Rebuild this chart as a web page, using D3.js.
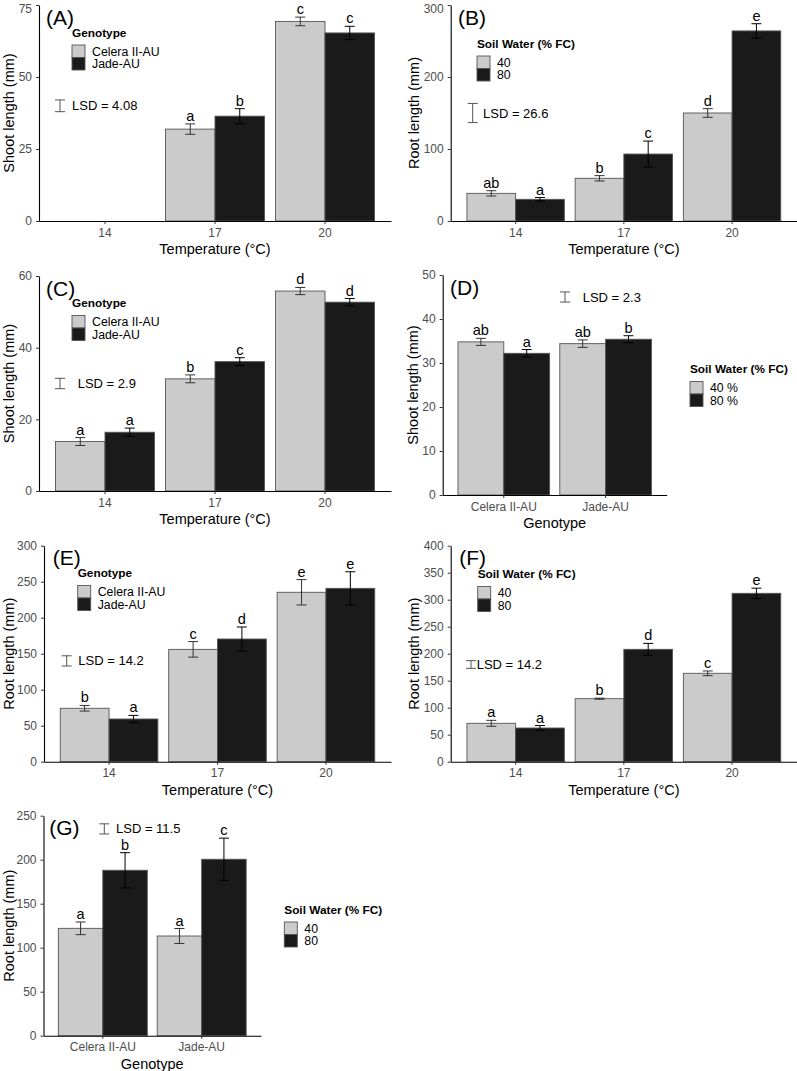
<!DOCTYPE html>
<html lang="en">
<head>
<meta charset="UTF-8">
<title>Shoot and root length</title>
<script src="https://d3js.org/d3.v7.min.js"></script>
<style>
  body { margin: 0; background: #fff; font-family: "Liberation Sans", Arial, Helvetica, sans-serif; }
  svg { font-family: "Liberation Sans", Arial, Helvetica, sans-serif; }
  .tick text { fill: #4d4d4d; font-size: 12px; }
  .tick line { stroke: #333; }
  .domain { stroke: #000; stroke-width: 1.1; }
  .ptitle { font-size: 21px; }
  .atitle { font-size: 14.5px; }
  .ltitle { font-size: 11.8px; font-weight: bold; }
  .llab { font-size: 12.3px; }
  .lsd { font-size: 13px; }
  .letter { font-size: 14.5px; }
</style>
</head>
<body>
<svg id="fig" width="797" height="1071"></svg>
<script>
// categories
var temps = ["14", "17", "20"];
var genotypes = ["Celera II-AU", "Jade-AU"];
var genoLegend = ["Celera II-AU", "Jade-AU"];
var waterLegend = ["40", "80"];
var waterLegendPct = ["40 %", "80 %"];

// (A) shoot length ~ temperature x genotype (no shoots at 14)
var aCelera = [null, 31.9, 69.3];
var aCeleraErr = [null, 1.8, 1.5];
var aCeleraLet = ["", "a", "c"];
var aJade = [null, 36.4, 65.3];
var aJadeErr = [null, 2.6, 2.3];
var aJadeLet = ["", "b", "c"];
var aTicks = [0, 25, 50, 75];

// (B) root length ~ temperature x soil water
var b40 = [38.4, 59.3, 150];
var b40Err = [3.7, 3.7, 6];
var b40Let = ["ab", "b", "d"];
var b80 = [30.1, 93, 264];
var b80Err = [2.5, 18, 10];
var b80Let = ["a", "c", "e"];
var bTicks = [0, 100, 200, 300];

// (C) shoot length ~ temperature x genotype
var cCelera = [13.8, 31.3, 55.8];
var cCeleraErr = [1.1, 1.1, 1.0];
var cCeleraLet = ["a", "b", "d"];
var cJade = [16.4, 36.1, 52.7];
var cJadeErr = [1.15, 1.1, 1.0];
var cJadeLet = ["a", "c", "d"];
var cTicks = [0, 20, 40, 60];

// (D) shoot length ~ genotype x soil water
var d40 = [34.8, 34.4];
var d40Err = [0.8, 0.85];
var d40Let = ["ab", "ab"];
var d80 = [32.2, 35.4];
var d80Err = [0.85, 0.8];
var d80Let = ["a", "b"];
var dTicks = [0, 10, 20, 30, 40, 50];

// (E) root length ~ temperature x genotype
var eCelera = [74.2, 156, 235.3];
var eCeleraErr = [3.9, 10.8, 17.6];
var eCeleraLet = ["b", "c", "e"];
var eJade = [59.3, 170.4, 240.8];
var eJadeErr = [5, 16.7, 23];
var eJadeLet = ["a", "d", "e"];
var eTicks = [0, 50, 100, 150, 200, 250, 300];

// (F) root length ~ temperature x soil water
var f40 = [71.1, 116.7, 163.7];
var f40Err = [5.5, 1, 4.3];
var f40Let = ["a", "b", "c"];
var f80 = [62.4, 208.1, 311.8];
var f80Err = [4.6, 11, 9.5];
var f80Let = ["a", "d", "e"];
var fTicks = [0, 50, 100, 150, 200, 250, 300, 350, 400];

// (G) root length ~ genotype x soil water
var g40 = [122, 113.3];
var g40Err = [7.2, 8.5];
var g40Let = ["a", "a"];
var g80 = [188, 200.5];
var g80Err = [20, 24];
var g80Let = ["b", "c"];
var gTicks = [0, 50, 100, 150, 200, 250];

// LSD values and where the LSD bar sits (data units)
var lsdVals = [4.08, 26.6, 2.9, 2.3, 14.2, 14.2, 11.5];
var lsdCenters = [40, 150, 30, 45, 140, 180, 235];

var light = "#cbcbcb", dark = "#1a1a1a";
var svg = d3.select("#fig");

function panel(o) {
  var g = svg.append("g");
  var x = d3.scaleBand().domain(o.cats).range([o.x0, o.x1])
    .paddingInner(0.1).paddingOuter(0.15);
  var sub = d3.scaleBand().domain([0, 1]).range([0, x.bandwidth()]);
  var y = d3.scaleLinear().domain([0, o.yMax]).range([o.yBase, o.yTop]);

  var series = [
    { v: o.s1, e: o.e1, l: o.l1, fill: light, ec: "#333" },
    { v: o.s2, e: o.e2, l: o.l2, fill: dark, ec: "#000" }
  ];
  var rows = [];
  series.forEach(function(s, si) {
    o.cats.forEach(function(c, i) {
      if (s.v[i] == null) return;
      rows.push({ c: c, si: si, v: s.v[i], e: s.e[i], l: s.l[i], fill: s.fill, ec: s.ec });
    });
  });
  var cx = function(d) { return x(d.c) + sub(d.si) + sub.bandwidth() / 2; };

  g.selectAll("rect.bar").data(rows).enter().append("rect")
    .attr("class", "bar")
    .attr("x", function(d) { return x(d.c) + sub(d.si); })
    .attr("width", sub.bandwidth())
    .attr("y", function(d) { return y(d.v); })
    .attr("height", function(d) { return y(0) - y(d.v); })
    .attr("fill", function(d) { return d.fill; })
    .attr("stroke", "#555")
    .attr("stroke-width", 0.9);

  // error bars
  var eb = g.selectAll("g.eb").data(rows).enter().append("g")
    .attr("stroke", function(d) { return d.ec; }).attr("stroke-width", 1);
  eb.append("line")
    .attr("x1", cx).attr("x2", cx)
    .attr("y1", function(d) { return y(d.v + d.e); })
    .attr("y2", function(d) { return y(d.v - d.e); });
  eb.append("line")
    .attr("x1", function(d) { return cx(d) - 5; }).attr("x2", function(d) { return cx(d) + 5; })
    .attr("y1", function(d) { return y(d.v + d.e); }).attr("y2", function(d) { return y(d.v + d.e); });
  eb.append("line")
    .attr("x1", function(d) { return cx(d) - 5; }).attr("x2", function(d) { return cx(d) + 5; })
    .attr("y1", function(d) { return y(d.v - d.e); }).attr("y2", function(d) { return y(d.v - d.e); });

  g.selectAll("text.letter").data(rows).enter().append("text")
    .attr("class", "letter")
    .attr("x", cx)
    .attr("y", function(d) { return y(d.v + d.e) - 3; })
    .attr("text-anchor", "middle")
    .text(function(d) { return d.l; });

  // axes
  var yAx = g.append("g").attr("transform", "translate(" + o.x0 + ",0)")
    .call(d3.axisLeft(y).tickValues(o.ticks).tickSize(3).tickSizeOuter(0).tickPadding(4));
  // keep the top label inside the page
  yAx.selectAll(".tick text").attr("dy", function(d) { return y(d) < 7 ? "0.6em" : "0.32em"; });
  g.append("g").attr("transform", "translate(0," + o.yBase + ")")
    .call(d3.axisBottom(x).tickSize(3).tickSizeOuter(0).tickPadding(4));

  // titles
  g.append("text").attr("class", "atitle")
    .attr("x", (o.x0 + o.x1) / 2).attr("y", o.yBase + 33)
    .attr("text-anchor", "middle").text(o.xTitle);
  g.append("text").attr("class", "atitle")
    .attr("transform", "translate(" + o.yTitleX + "," + (o.yBase + o.yTop) / 2 + ") rotate(-90)")
    .attr("dy", "0.35em").attr("text-anchor", "middle").text(o.yTitle);
  g.append("text").attr("class", "ptitle")
    .attr("x", o.labelX).attr("y", o.yTop + 19.5).text(o.label);

  // LSD bar
  var lo = y(o.lsdAt - o.lsd / 2), hi = y(o.lsdAt + o.lsd / 2);
  var lg = g.append("g").attr("stroke", "#555").attr("stroke-width", 1);
  lg.append("line").attr("x1", o.lsdX).attr("x2", o.lsdX).attr("y1", lo).attr("y2", hi);
  lg.append("line").attr("x1", o.lsdX - 5).attr("x2", o.lsdX + 5).attr("y1", lo).attr("y2", lo);
  lg.append("line").attr("x1", o.lsdX - 5).attr("x2", o.lsdX + 5).attr("y1", hi).attr("y2", hi);
  g.append("text").attr("class", "lsd")
    .attr("x", o.lsdTextX).attr("y", y(o.lsdAt)).attr("dy", "0.35em")
    .text("LSD = " + o.lsd);

  // legend
  g.append("text").attr("class", "ltitle")
    .attr("x", o.legX).attr("y", o.legY).text(o.legTitle);
  var keys = g.selectAll("g.key").data(o.legLabels).enter().append("g")
    .attr("transform", function(d, i) { return "translate(" + o.legX + "," + (o.legY + 8.5 + i * 12.5) + ")"; });
  keys.append("rect").attr("width", 13).attr("height", 12.5)
    .attr("fill", function(d, i) { return i ? dark : light; })
    .attr("stroke", "#555").attr("stroke-width", 0.9);
  keys.append("text").attr("class", "llab")
    .attr("x", 20).attr("y", 6.25).attr("dy", "0.35em")
    .text(function(d) { return d; });
}

panel({ label: "(A)", labelX: 46, cats: temps, x0: 39, x1: 391, yBase: 221, yTop: 5, yMax: 75, ticks: aTicks,
  s1: aCelera, e1: aCeleraErr, l1: aCeleraLet, s2: aJade, e2: aJadeErr, l2: aJadeLet,
  xTitle: "Temperature (°C)", yTitle: "Shoot length (mm)", yTitleX: 8.5,
  lsd: lsdVals[0], lsdAt: lsdCenters[0], lsdX: 60, lsdTextX: 72,
  legTitle: "Genotype", legLabels: genoLegend, legX: 72, legY: 36.5 });

panel({ label: "(B)", labelX: 458, cats: temps, x0: 450.7, x1: 797, yBase: 221, yTop: 5, yMax: 300, ticks: bTicks,
  s1: b40, e1: b40Err, l1: b40Let, s2: b80, e2: b80Err, l2: b80Let,
  xTitle: "Temperature (°C)", yTitle: "Root length (mm)", yTitleX: 414,
  lsd: lsdVals[1], lsdAt: lsdCenters[1], lsdX: 472.7, lsdTextX: 483,
  legTitle: "Soil Water (% FC)", legLabels: waterLegend, legX: 477, legY: 47.5 });

panel({ label: "(C)", labelX: 46, cats: temps, x0: 39, x1: 391, yBase: 491, yTop: 276, yMax: 60, ticks: cTicks,
  s1: cCelera, e1: cCeleraErr, l1: cCeleraLet, s2: cJade, e2: cJadeErr, l2: cJadeLet,
  xTitle: "Temperature (°C)", yTitle: "Shoot length (mm)", yTitleX: 8.5,
  lsd: lsdVals[2], lsdAt: lsdCenters[2], lsdX: 60, lsdTextX: 77.7,
  legTitle: "Genotype", legLabels: genoLegend, legX: 72, legY: 307 });

panel({ label: "(D)", labelX: 450, cats: genotypes, x0: 442.7, x1: 666.7, yBase: 495, yTop: 275, yMax: 50, ticks: dTicks,
  s1: d40, e1: d40Err, l1: d40Let, s2: d80, e2: d80Err, l2: d80Let,
  xTitle: "Genotype", yTitle: "Shoot length (mm)", yTitleX: 413.3,
  lsd: lsdVals[3], lsdAt: lsdCenters[3], lsdX: 565, lsdTextX: 582.7,
  legTitle: "Soil Water (% FC)", legLabels: waterLegendPct, legX: 690, legY: 373 });

panel({ label: "(E)", labelX: 52.7, cats: temps, x0: 44, x1: 391, yBase: 761.7, yTop: 545.7, yMax: 300, ticks: eTicks,
  s1: eCelera, e1: eCeleraErr, l1: eCeleraLet, s2: eJade, e2: eJadeErr, l2: eJadeLet,
  xTitle: "Temperature (°C)", yTitle: "Root length (mm)", yTitleX: 8.5,
  lsd: lsdVals[4], lsdAt: lsdCenters[4], lsdX: 66.7, lsdTextX: 78.3,
  legTitle: "Genotype", legLabels: genoLegend, legX: 77.7, legY: 577 });

panel({ label: "(F)", labelX: 459.3, cats: temps, x0: 450.7, x1: 797, yBase: 761.7, yTop: 545.7, yMax: 400, ticks: fTicks,
  s1: f40, e1: f40Err, l1: f40Let, s2: f80, e2: f80Err, l2: f80Let,
  xTitle: "Temperature (°C)", yTitle: "Root length (mm)", yTitleX: 414,
  lsd: lsdVals[5], lsdAt: lsdCenters[5], lsdX: 471, lsdTextX: 476.7,
  legTitle: "Soil Water (% FC)", legLabels: waterLegend, legX: 477.7, legY: 578 });

panel({ label: "(G)", labelX: 49.3, cats: genotypes, x0: 43.5, x1: 261, yBase: 1035.7, yTop: 815.7, yMax: 250, ticks: gTicks,
  s1: g40, e1: g40Err, l1: g40Let, s2: g80, e2: g80Err, l2: g80Let,
  xTitle: "Genotype", yTitle: "Root length (mm)", yTitleX: 8.5,
  lsd: lsdVals[6], lsdAt: lsdCenters[6], lsdX: 104.3, lsdTextX: 116,
  legTitle: "Soil Water (% FC)", legLabels: waterLegend, legX: 284.3, legY: 913.5 });
</script>
</body>
</html>
